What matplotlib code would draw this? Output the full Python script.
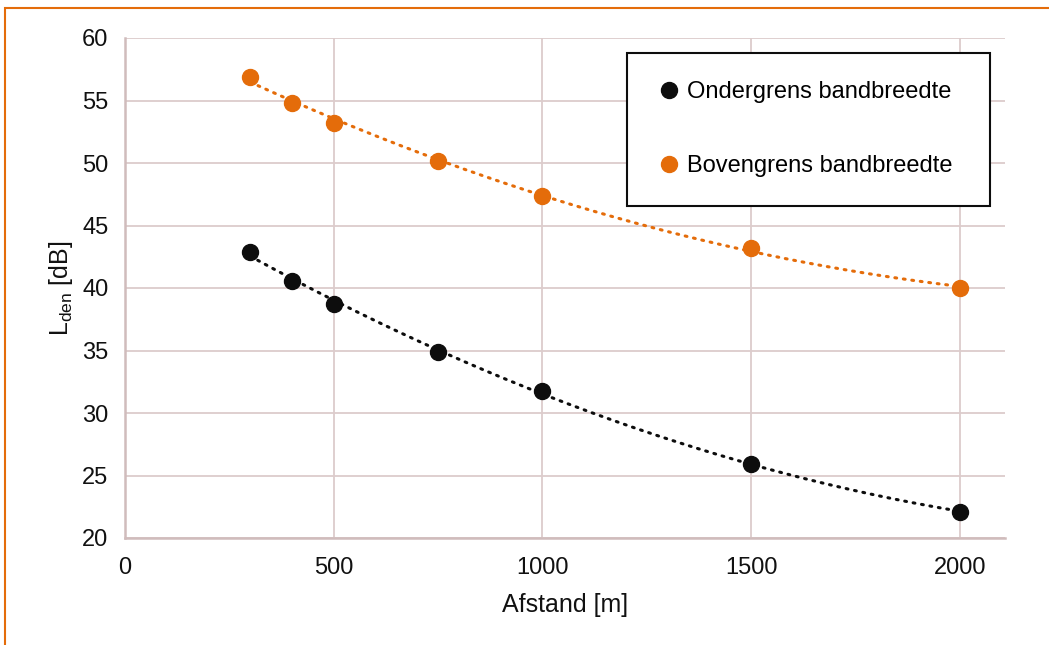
import numpy as np
import matplotlib.pyplot as plt
from matplotlib.patches import Rectangle

plt.rcParams['font.family'] = ['Liberation Sans', 'DejaVu Sans']

# data
afstand = [300, 400, 500, 750, 1000, 1500, 2000]
onder = [42.9, 40.6, 38.7, 34.9, 31.8, 25.9, 22.1]
boven = [56.9, 54.8, 53.2, 50.2, 47.4, 43.2, 40.0]

xticks = [0, 500, 1000, 1500, 2000]
yticks = [20, 25, 30, 35, 40, 45, 50, 55, 60]

black = "#0d0d0d"
orange = "#e46c0a"
gridc = "#dccccc"
size = 17

fig = plt.figure(figsize=(10.49, 6.45), dpi=100)
ax = fig.add_axes([125/1049, 1-538/645, 880/1049, 500/645])

# orange frame of the chart area
fig.patches.append(Rectangle((5/1049, -0.2), 1.5, 1.2 - 8/645,
                             transform=fig.transFigure, fill=False,
                             edgecolor=orange, linewidth=1.5))

# dotted trend lines (2nd order fit, like the Excel trendline)
xs = np.linspace(min(afstand), max(afstand), 200)
for ys, c in [(onder, black), (boven, orange)]:
    p = np.polyfit(afstand, ys, 2)
    ax.plot(xs, np.polyval(p, xs), color=c, lw=2.2, ls=(0, (0.6, 2.2)),
            dash_capstyle='round', zorder=2)

ax.plot(afstand, onder, 'o', color=black, ms=11.5, label="Ondergrens bandbreedte", zorder=3)
ax.plot(afstand, boven, 'o', color=orange, ms=11.5, label="Bovengrens bandbreedte", zorder=3)

ax.set_xlim(0, 2108)
ax.set_ylim(20, 60)
ax.set_xticks(xticks)
ax.set_yticks(yticks)
ax.grid(True, color=gridc, lw=1.3)
ax.set_axisbelow(True)
for s in ['top', 'right']:
    ax.spines[s].set_visible(False)
for s in ['left', 'bottom']:
    ax.spines[s].set_color("#d0bcbc")
    ax.spines[s].set_linewidth(1.8)
ax.tick_params(length=0, labelsize=size, pad=12, colors="#111111")
ax.tick_params(axis='x', pad=14)

ax.set_xlabel("Afstand [m]", fontsize=size+1, color="#111111", labelpad=10)
ax.set_ylabel(r"L$_\mathregular{den}$ [dB]", fontsize=size+1, color="#111111", labelpad=5)

leg = ax.legend(loc='upper left', bbox_to_anchor=(0.570, 0.67, 0.413, 0.30),
                mode='expand', fontsize=size,
                frameon=True, fancybox=False, edgecolor=black, framealpha=1,
                borderpad=1.2, labelspacing=2.2, handletextpad=0.17,
                handlelength=1.2, borderaxespad=0)
leg.get_frame().set_linewidth(1.5)

fig.savefig("out.png", dpi=100)
